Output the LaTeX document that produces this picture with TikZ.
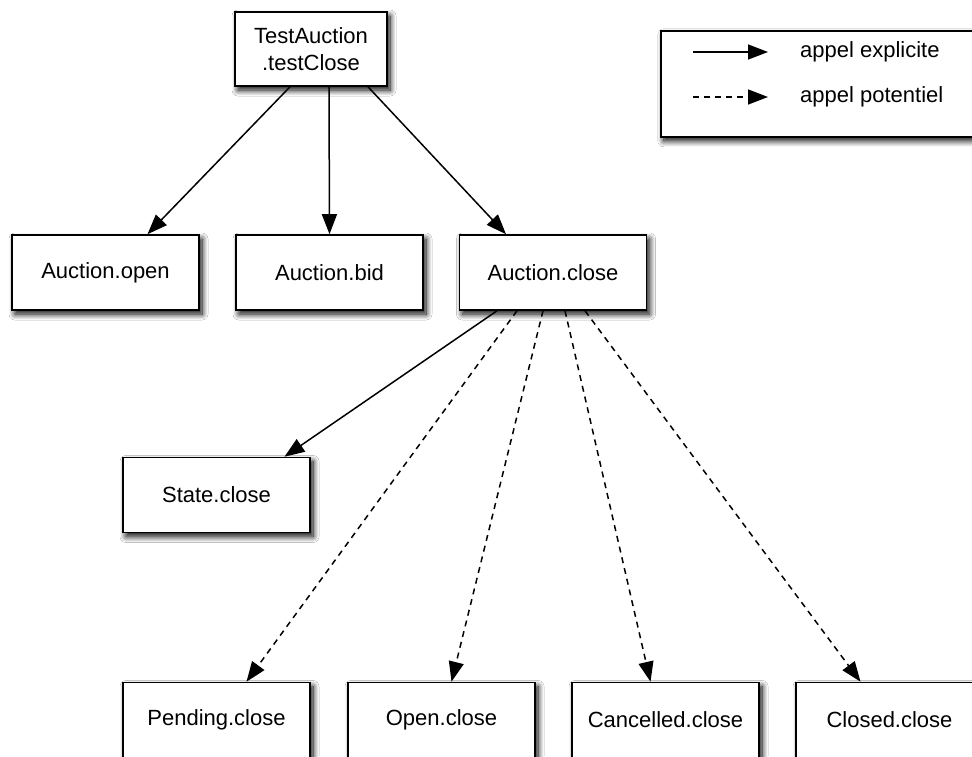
\documentclass[tikz,border=0pt]{standalone}
\usepackage{fontspec}
\setmainfont{Liberation Sans}
\usetikzlibrary{arrows.meta,shadows.blur}
\begin{document}
\begin{tikzpicture}[x=1pt,y=-1pt,
  box/.style={draw=black, line width=1.6pt, fill=white, minimum width=187pt, minimum height=75pt,
    inner sep=0pt, font=\fontsize{22}{27}\selectfont, align=center,
    blur shadow={shadow xshift=3pt, shadow yshift=-4pt, shadow blur radius=6pt, shadow blur steps=12, shadow opacity=100}},
  arr/.style={line width=1.5pt, -{Triangle[length=20pt,width=15pt]}},
  darr/.style={arr, dash pattern=on 6pt off 5pt},
  lbl/.style={font=\fontsize{22}{25}\selectfont, anchor=west, inner sep=0pt}]
\useasboundingbox (0,0) rectangle (972,756);
\fill[white] (0,0) rectangle (972,756);
% legend
\node[box, minimum width=330pt, minimum height=106pt, anchor=north west] (leg) at (660,30) {};
\coordinate (l1a) at (693,52);
\coordinate (l1b) at (768,52);
\coordinate (l2a) at (693,97);
\coordinate (l2b) at (768,97);
\draw[arr] (l1a) -- (l1b);
\draw[darr] (l2a) -- (l2b);
\node[lbl] (t1) at (800,52) {appel explicite};
\node[lbl] (t2) at (800,97) {appel potentiel};
% nodes
\node[box, minimum width=152pt, minimum height=74pt] (tc) at (311,49) {TestAuction\\.testClose};
\node[box] (ao) at (105.5,272.5) {Auction.open};
\node[box] (ab) at (329.5,272.5) {Auction.bid};
\node[box] (ac) at (553,272.5) {Auction.close};
\node[box] (sc) at (216.5,495) {State.close};
\node[box] (pc) at (216.5,720) {Pending.close};
\node[box] (oc) at (441.5,720) {Open.close};
\node[box] (cc) at (665.5,720) {Cancelled.close};
\node[box] (clc) at (889.5,720) {Closed.close};
% connectors
\draw[arr] ([xshift=-21pt]tc.south) -- ([xshift=42pt]ao.north);
\draw[arr] ([xshift=18pt]tc.south) -- ([xshift=0pt]ab.north);
\draw[arr] ([xshift=57pt]tc.south) -- ([xshift=-47pt]ac.north);
\draw[arr] ([xshift=-56pt]ac.south) -- ([xshift=68pt]sc.north);
\draw[darr] ([xshift=-36pt]ac.south) -- ([xshift=30pt]pc.north);
\draw[darr] ([xshift=-10pt]ac.south) -- ([xshift=10pt]oc.north);
\draw[darr] ([xshift=12pt]ac.south) -- ([xshift=-15pt]cc.north);
\draw[darr] ([xshift=32pt]ac.south) -- ([xshift=-29pt]clc.north);
\end{tikzpicture}
\end{document}
